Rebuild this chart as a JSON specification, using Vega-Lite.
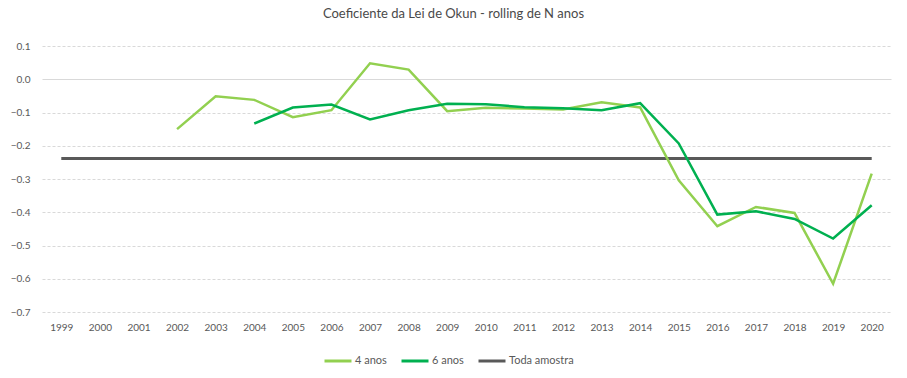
{
  "$schema": "https://vega.github.io/schema/vega-lite/v6.json",
  "width": 849,
  "height": 266,
  "autosize": {"type": "none"},
  "padding": {"left": 42, "top": 46, "right": 16, "bottom": 66},
  "background": "white",
  "title": {
    "text": "Coeficiente da Lei de Okun - rolling de N anos",
    "anchor": "middle",
    "dx": -13,
    "offset": 20,
    "fontSize": 13,
    "font": "Lato",
    "fontWeight": "normal",
    "color": "#4a4a4a"
  },
  "config": {
    "view": {"stroke": null},
    "font": "Lato"
  },
  "datasets": {
    "main": [
      {"year": "2002", "series": "4 anos", "value": -0.150},
      {"year": "2003", "series": "4 anos", "value": -0.051},
      {"year": "2004", "series": "4 anos", "value": -0.062},
      {"year": "2005", "series": "4 anos", "value": -0.114},
      {"year": "2006", "series": "4 anos", "value": -0.093},
      {"year": "2007", "series": "4 anos", "value": 0.048},
      {"year": "2008", "series": "4 anos", "value": 0.029},
      {"year": "2009", "series": "4 anos", "value": -0.096},
      {"year": "2010", "series": "4 anos", "value": -0.086},
      {"year": "2011", "series": "4 anos", "value": -0.088},
      {"year": "2012", "series": "4 anos", "value": -0.091},
      {"year": "2013", "series": "4 anos", "value": -0.069},
      {"year": "2014", "series": "4 anos", "value": -0.085},
      {"year": "2015", "series": "4 anos", "value": -0.304},
      {"year": "2016", "series": "4 anos", "value": -0.442},
      {"year": "2017", "series": "4 anos", "value": -0.384},
      {"year": "2018", "series": "4 anos", "value": -0.402},
      {"year": "2019", "series": "4 anos", "value": -0.615},
      {"year": "2020", "series": "4 anos", "value": -0.284},
      {"year": "2004", "series": "6 anos", "value": -0.133},
      {"year": "2005", "series": "6 anos", "value": -0.085},
      {"year": "2006", "series": "6 anos", "value": -0.076},
      {"year": "2007", "series": "6 anos", "value": -0.121},
      {"year": "2008", "series": "6 anos", "value": -0.093},
      {"year": "2009", "series": "6 anos", "value": -0.074},
      {"year": "2010", "series": "6 anos", "value": -0.075},
      {"year": "2011", "series": "6 anos", "value": -0.084},
      {"year": "2012", "series": "6 anos", "value": -0.087},
      {"year": "2013", "series": "6 anos", "value": -0.093},
      {"year": "2014", "series": "6 anos", "value": -0.072},
      {"year": "2015", "series": "6 anos", "value": -0.193},
      {"year": "2016", "series": "6 anos", "value": -0.407},
      {"year": "2017", "series": "6 anos", "value": -0.397},
      {"year": "2018", "series": "6 anos", "value": -0.420},
      {"year": "2019", "series": "6 anos", "value": -0.479},
      {"year": "2020", "series": "6 anos", "value": -0.379}
    ],
    "full": [
      {"year": "1999", "series": "Toda amostra", "value": -0.2386},
      {"year": "2000", "series": "Toda amostra", "value": -0.2386},
      {"year": "2001", "series": "Toda amostra", "value": -0.2386},
      {"year": "2002", "series": "Toda amostra", "value": -0.2386},
      {"year": "2003", "series": "Toda amostra", "value": -0.2386},
      {"year": "2004", "series": "Toda amostra", "value": -0.2386},
      {"year": "2005", "series": "Toda amostra", "value": -0.2386},
      {"year": "2006", "series": "Toda amostra", "value": -0.2386},
      {"year": "2007", "series": "Toda amostra", "value": -0.2386},
      {"year": "2008", "series": "Toda amostra", "value": -0.2386},
      {"year": "2009", "series": "Toda amostra", "value": -0.2386},
      {"year": "2010", "series": "Toda amostra", "value": -0.2386},
      {"year": "2011", "series": "Toda amostra", "value": -0.2386},
      {"year": "2012", "series": "Toda amostra", "value": -0.2386},
      {"year": "2013", "series": "Toda amostra", "value": -0.2386},
      {"year": "2014", "series": "Toda amostra", "value": -0.2386},
      {"year": "2015", "series": "Toda amostra", "value": -0.2386},
      {"year": "2016", "series": "Toda amostra", "value": -0.2386},
      {"year": "2017", "series": "Toda amostra", "value": -0.2386},
      {"year": "2018", "series": "Toda amostra", "value": -0.2386},
      {"year": "2019", "series": "Toda amostra", "value": -0.2386},
      {"year": "2020", "series": "Toda amostra", "value": -0.2386}
    ]
  },
  "encoding": {
    "x": {
      "field": "year",
      "type": "ordinal",
      "title": null,
      "scale": {"domain": ["1999","2000","2001","2002","2003","2004","2005","2006","2007","2008","2009","2010","2011","2012","2013","2014","2015","2016","2017","2018","2019","2020"]},
      "axis": {
        "labelAngle": 0,
        "ticks": false,
        "domain": false,
        "grid": false,
        "labelPadding": 10,
        "labelFontSize": 10,
        "labelColor": "#595959",
        "labelFont": "Lato"
      }
    },
    "y": {
      "field": "value",
      "type": "quantitative",
      "title": null,
      "scale": {"domain": [-0.7, 0.1], "nice": false, "zero": false},
      "axis": {
        "values": [-0.7, -0.6, -0.5, -0.4, -0.3, -0.2, -0.1, 0, 0.1],
        "format": ".1f",
        "ticks": false,
        "domain": false,
        "grid": true,
        "gridColor": "#d9d9d9",
        "gridDash": {"condition": {"test": "datum.value === 0", "value": []}, "value": [3, 2]},
        "labelPadding": 12,
        "labelFontSize": 10,
        "labelColor": "#595959",
        "labelFont": "Lato"
      }
    },
    "color": {
      "field": "series",
      "type": "nominal",
      "title": null,
      "scale": {
        "domain": ["4 anos", "6 anos", "Toda amostra"],
        "range": ["#92D050", "#00B050", "#595959"]
      },
      "legend": {
        "orient": "none",
        "direction": "horizontal",
        "legendX": 281,
        "legendY": 300,
        "symbolType": "stroke",
        "symbolSize": 729,
        "symbolStrokeWidth": 3,
        "labelOffset": 2,
        "columnPadding": 8,
        "labelFontSize": 11,
        "labelColor": "#595959",
        "labelFont": "Lato"
      }
    }
  },
  "layer": [
    {
      "data": {"name": "full"},
      "mark": {"type": "line", "strokeWidth": 3}
    },
    {
      "data": {"name": "main"},
      "mark": {"type": "line", "strokeWidth": 2.5}
    }
  ]
}
